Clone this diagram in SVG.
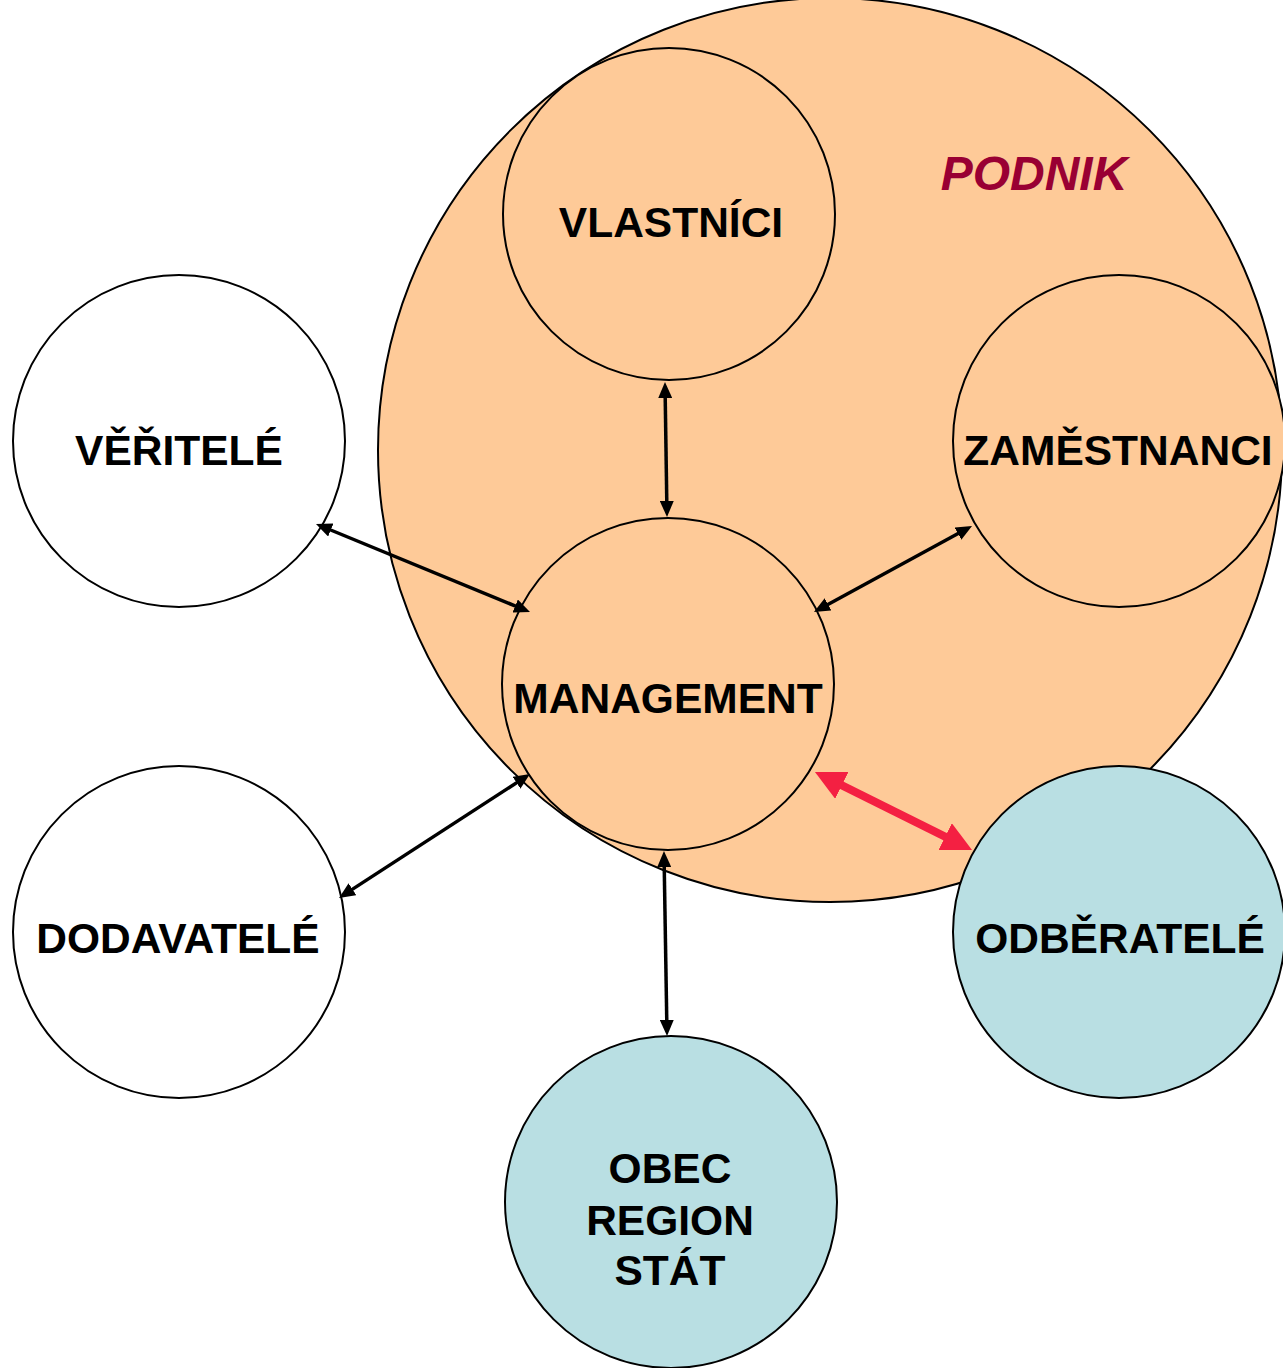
<svg xmlns="http://www.w3.org/2000/svg" width="1283" height="1368" viewBox="0 0 1283 1368">
<defs>
<style>
.c{stroke:#000;stroke-width:2}
.p{fill:#FECA98}
.w{fill:#FFFFFF}
.t{fill:#B9DFE3}
.lbl{font-family:"Liberation Sans",Arial,sans-serif;font-weight:bold;font-size:42.5px;fill:#000;text-anchor:middle}
.ttl{font-family:"Liberation Sans",Arial,sans-serif;font-weight:bold;font-style:italic;font-size:48px;fill:#990033;text-anchor:middle}
.a{stroke:#000;stroke-width:3.5;fill:none;marker-start:url(#ah);marker-end:url(#ah)}
.r{stroke:#F42042;stroke-width:8;fill:none;marker-start:url(#rh);marker-end:url(#rh)}
</style>
<marker id="ah" markerUnits="userSpaceOnUse" markerWidth="16" markerHeight="14" refX="8" refY="7" orient="auto-start-reverse" viewBox="0 0 16 14">
<path d="M0,0 L16,7 L0,14 z" fill="#000"/>
</marker>
<marker id="rh" markerUnits="userSpaceOnUse" markerWidth="30" markerHeight="30" refX="15" refY="15" orient="auto-start-reverse" viewBox="0 0 30 30">
<path d="M0,0 L30,15 L0,30 z" fill="#F42042"/>
</marker>
</defs>
<rect width="1283" height="1368" fill="#FFFFFF"/>
<g id="podnik">
<circle class="c p" cx="830" cy="450" r="452"/>
<text class="ttl" x="1034" y="190">PODNIK</text>
</g>
<g id="vlastnici">
<circle class="c p" cx="669" cy="214" r="166"/>
<text class="lbl" x="671" y="237">VLASTNÍCI</text>
</g>
<g id="veritele">
<circle class="c w" cx="179" cy="441" r="166"/>
<text class="lbl" x="179" y="465">VĚŘITELÉ</text>
</g>
<g id="zamestnanci">
<circle class="c p" cx="1119" cy="441" r="166"/>
<text class="lbl" x="1118" y="465">ZAMĚSTNANCI</text>
</g>
<g id="management">
<circle class="c p" cx="668" cy="684" r="166"/>
<text class="lbl" x="668" y="713">MANAGEMENT</text>
</g>
<g id="dodavatele">
<circle class="c w" cx="179" cy="932" r="166"/>
<text class="lbl" x="178" y="953">DODAVATELÉ</text>
</g>
<g id="odberatele">
<circle class="c t" cx="1119" cy="932" r="166"/>
<text class="lbl" x="1120" y="953">ODBĚRATELÉ</text>
</g>
<g id="obec">
<circle class="c t" cx="671" cy="1202" r="166"/>
<text class="lbl" x="670" y="1183">OBEC</text>
<text class="lbl" x="670" y="1235">REGION</text>
<text class="lbl" x="670" y="1285">STÁT</text>
</g>
<g id="connectors">
<line class="a" x1="665.1" y1="390" x2="666.9" y2="509"/>
<line class="a" x1="323.4" y1="527" x2="522.6" y2="609"/>
<line class="a" x1="965" y1="529.8" x2="821" y2="608.2"/>
<line class="a" x1="523.3" y1="778.4" x2="345.7" y2="893.6"/>
<line class="a" x1="664.1" y1="859" x2="666.9" y2="1028"/>
<line class="r" x1="828.4" y1="778.7" x2="958.6" y2="843.3"/>
</g>
</svg>
